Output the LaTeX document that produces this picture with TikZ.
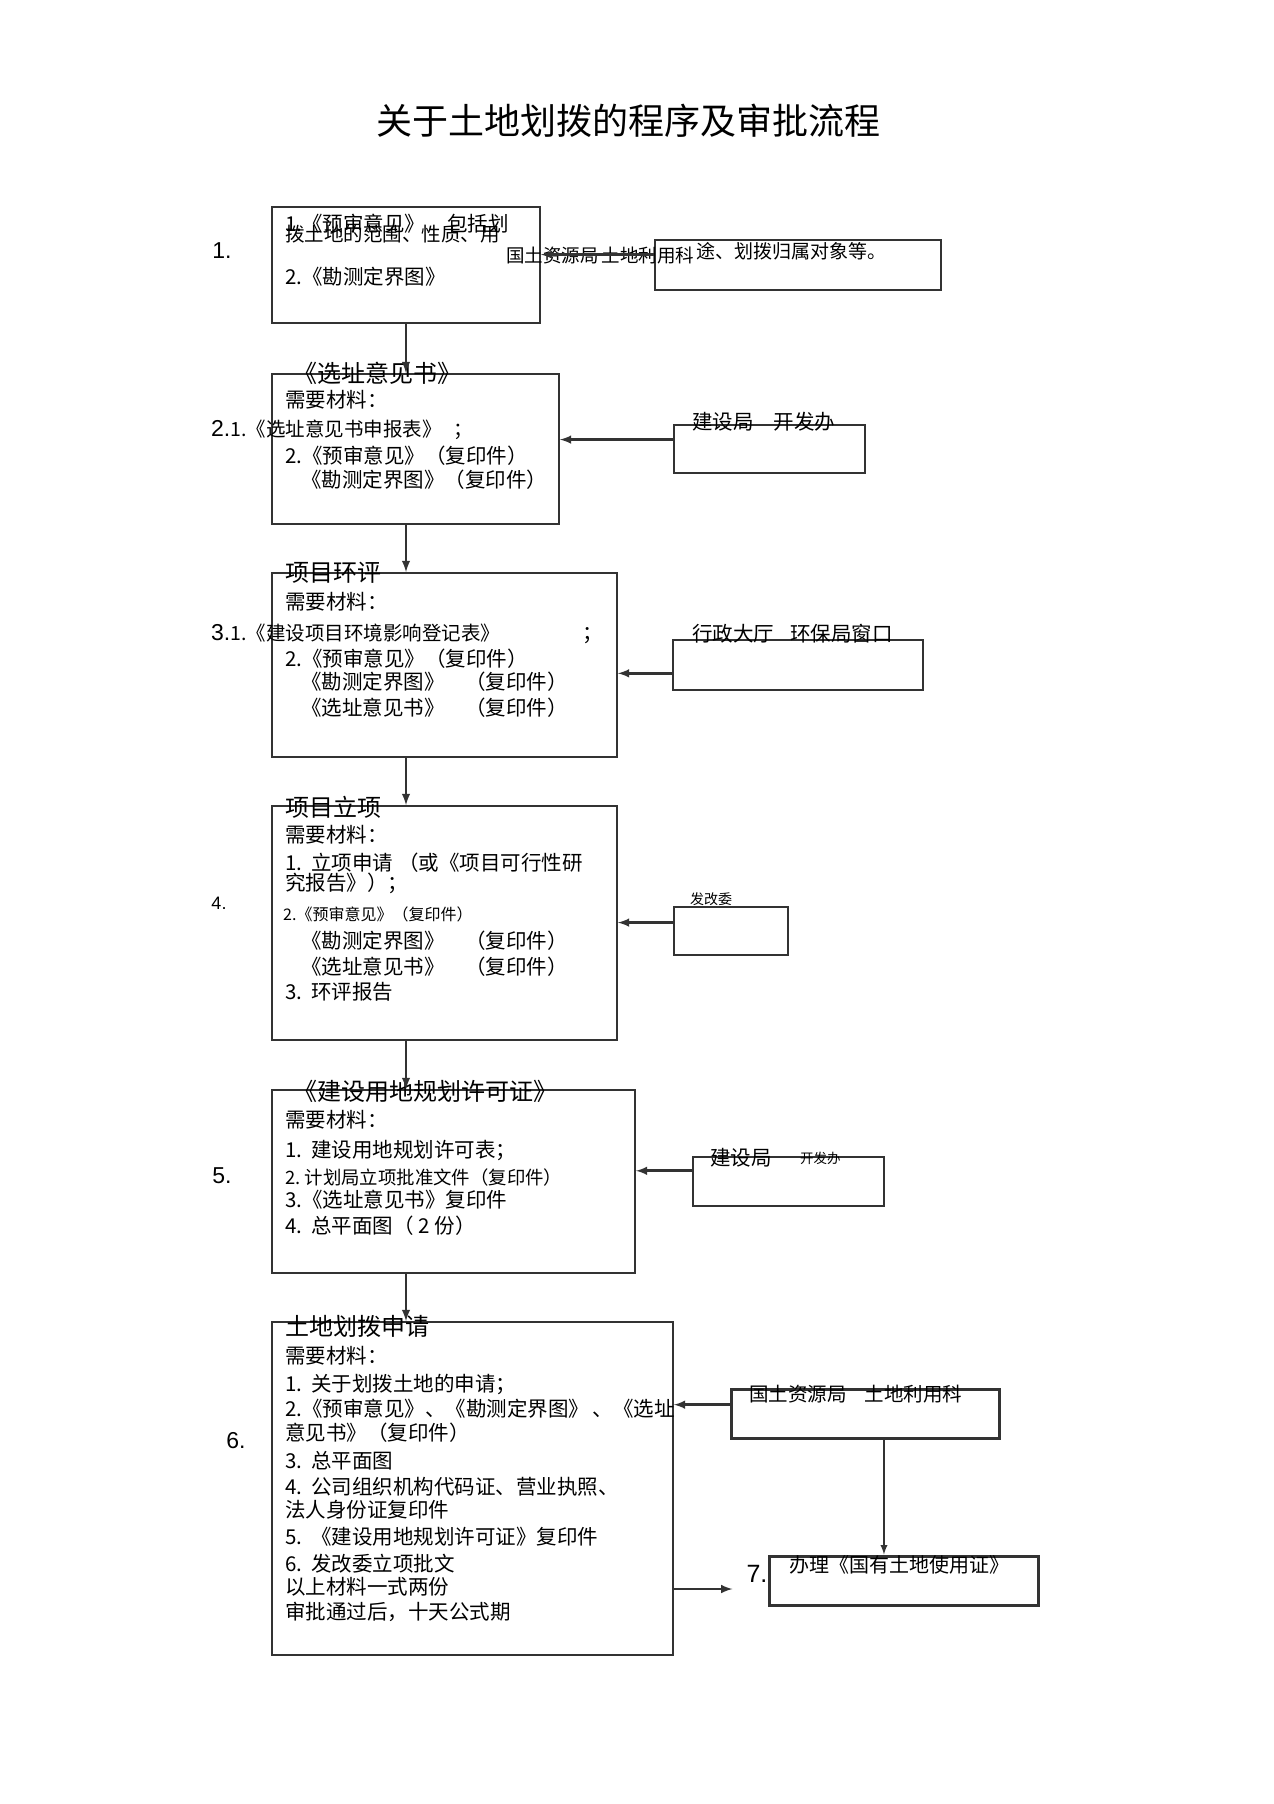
\documentclass[tikz,border=0pt]{standalone}
\usepackage{fontspec}
\setmainfont{Noto Sans CJK SC}
\newfontfamily\numfont{Liberation Sans}
\usetikzlibrary{arrows, calc}
\definecolor{rulegray}{HTML}{333333}

\begin{document}
\begin{tikzpicture}[x=1pt,y=-1pt,
    stage/.style={draw=rulegray,line width=2pt,inner sep=0},
    office/.style={draw=rulegray,line width=2pt,inner sep=0},
    entry/.style={anchor=west,inner sep=0,font=\fontsize{20.5}{20.5}\selectfont},
    small entry/.style={entry,font=\fontsize{16}{16}\selectfont},
    heading/.style={entry,font=\fontsize{24}{24}\selectfont},
    stepno/.style={inner sep=0,font=\numfont\fontsize{23}{23}\selectfont},
    flow/.style={draw=rulegray,line width=2.8pt,-latex}]

    \useasboundingbox (0,0) rectangle (1274,1804);

    \node[heading,anchor=center,font=\fontsize{36}{36}\selectfont] (title) at (628,121) {关于土地划拨的程序及审批流程};

    % 1. pre-examination
    \node[stage,minimum width=268,minimum height=116] (b1) at (406,265) {};
    \node[office,minimum width=286,minimum height=50] (r1) at (798,265) {};
    \node[stepno] (n1) at (222,251) {1.};
    \node[entry] (t11) at (285,224) {1.《预审意见》\hspace{22pt}包括划};
    \node[entry,font=\fontsize{19.5}{19.5}\selectfont] (t12) at (285,234) {拨土地的范围、性质、用};
    \node[entry] (t13) at (285,277) {2.《勘测定界图》};
    \node[entry,font=\fontsize{18.5}{18.5}\selectfont] (o1) at (506,256) {国土资源局\,土地利用科};
    \node[entry,font=\fontsize{19}{19}\selectfont] (o1b) at (696,251) {途、划拨归属对象等。};
    \draw[flow] ($(r1.north west)!.3!(r1.south west)$) coordinate (a1) -- (a1 -| b1.east);

    % 2. site selection
    \node[stage,minimum width=287,minimum height=150] (b2) at (415.5,449) {};
    \node[office,line width=1.6pt,minimum width=191,minimum height=48] (r2) at (769.5,449) {};
    \node[heading] (h2) at (293,373) {《选址意见书》};
    \node[entry] (t21) at (285,400) {需要材料：};
    \node[entry,font=\fontsize{19.5}{19.5}\selectfont] (t22) at (211,430) {{\numfont\fontsize{23}{23}\selectfont 2.}1.《选址意见书申报表》\hspace{12pt}；};
    \node[entry] (t23) at (285,456) {2.《预审意见》（复印件）};
    \node[entry] (t24) at (301,480) {《勘测定界图》（复印件）};
    \node[entry] (o2) at (692,422) {建设局\hspace{20pt}开发办};
    \draw[flow] ($(r2.north west)!.31!(r2.south west)$) coordinate (a2) -- (a2 -| b2.east);

    % 3. environmental assessment
    \node[stage,minimum width=345,minimum height=184] (b3) at (444.5,665) {};
    \node[office,minimum width=250,minimum height=50] (r3) at (798,665) {};
    \node[heading] (h3) at (285,573) {项目环评};
    \node[entry] (t31) at (285,602) {需要材料：};
    \node[entry,font=\fontsize{19.5}{19.5}\selectfont] (t32) at (211,633) {{\numfont\fontsize{23}{23}\selectfont 3.}1.《建设项目环境影响登记表》};
    \node[entry] (t32b) at (582,636) {；};
    \node[entry] (t33) at (285,659) {2.《预审意见》（复印件）};
    \node[entry] (t34) at (301,682) {《勘测定界图》\quad（复印件）};
    \node[entry] (t35) at (301,708) {《选址意见书》\quad（复印件）};
    \node[entry] (o3) at (692,634) {行政大厅\hspace{16pt}环保局窗口};
    \draw[flow] ($(r3.north west)!.66!(r3.south west)$) coordinate (a3) -- (a3 -| b3.east);

    % 4. project approval
    \node[stage,minimum width=345,minimum height=234] (b4) at (444.5,923) {};
    \node[office,line width=1.6pt,minimum width=114,minimum height=48] (r4) at (731,931) {};
    \node[stepno,font=\numfont\fontsize{18}{18}\selectfont] (n4) at (219,903) {4.};
    \node[heading] (h4) at (285,807) {项目立项};
    \node[entry] (t41) at (285,835) {需要材料：};
    \node[entry] (t42) at (285,863) {1.\ \ 立项申请\ （或《项目可行性研};
    \node[entry] (t43) at (285,883) {究报告》）；};
    \node[small entry] (t44) at (283,914) {2.《预审意见》（复印件）};
    \node[entry] (t45) at (301,941) {《勘测定界图》\quad（复印件）};
    \node[entry] (t46) at (301,967) {《选址意见书》\quad（复印件）};
    \node[entry] (t47) at (285,992) {3.\ \ 环评报告};
    \node[small entry,font=\fontsize{14}{14}\selectfont] (o4) at (690,899) {发改委};
    \draw[flow] ($(r4.north west)!.33!(r4.south west)$) coordinate (a4) -- (a4 -| b4.east);

    % 5. planning permit
    \node[stage,minimum width=363,minimum height=183] (b5) at (453.5,1181.5) {};
    \node[office,minimum width=191,minimum height=49] (r5) at (788.5,1181.5) {};
    \node[stepno] (n5) at (222,1176) {5.};
    \node[heading] (h5) at (293,1091) {《建设用地规划许可证》};
    \node[entry] (t51) at (285,1120) {需要材料：};
    \node[entry] (t52) at (285,1151) {1.\ \ 建设用地规划许可表；};
    \node[entry,font=\fontsize{18.4}{18.4}\selectfont] (t53) at (285,1177) {2.\ 计划局立项批准文件（复印件）};
    \node[entry] (t54) at (285,1200) {3.《选址意见书》复印件};
    \node[entry] (t55) at (285,1226) {4.\ \ 总平面图（ 2 份）};
    \node[entry] (o5) at (710,1158) {建设局};
    \node[small entry,font=\fontsize{13.5}{13.5}\selectfont] (o5b) at (800,1158) {开发办};
    \draw[flow] ($(r5.north west)!.29!(r5.south west)$) coordinate (a5) -- (a5 -| b5.east);

    % 6. allocation application
    \node[stage,minimum width=401,minimum height=333] (b6) at (472.5,1488.5) {};
    \node[office,line width=3pt,minimum width=268,minimum height=49] (r6) at (865,1413.5) {};
    \node[stepno] (n6) at (236,1441) {6.};
    \node[heading] (h6) at (285,1326) {土地划拨申请};
    \node[entry] (t61) at (285,1356) {需要材料：};
    \node[entry] (t62) at (285,1384) {1.\ \ 关于划拨土地的申请；};
    \node[entry] (t63) at (285,1409) {2.《预审意见》、《勘测定界图》\,、《选址};
    \node[entry] (t64) at (285,1433) {意见书》（复印件）};
    \node[entry] (t65) at (285,1461) {3.\ \ 总平面图};
    \node[entry] (t66) at (285,1487) {4.\ \ 公司组织机构代码证、营业执照、};
    \node[entry] (t67) at (285,1510) {法人身份证复印件};
    \node[entry] (t68) at (285,1537) {5.\ \ 《建设用地规划许可证》复印件};
    \node[entry] (t69) at (285,1564) {6.\ \ 发改委立项批文};
    \node[entry] (t6a) at (285,1587) {以上材料一式两份};
    \node[entry] (t6b) at (285,1612) {审批通过后，十天公式期};
    \node[entry,font=\fontsize{19.5}{19.5}\selectfont] (o6) at (749,1394) {国土资源局\hspace{18pt}土地利用科};
    \draw[flow] ($(r6.north west)!.33!(r6.south west)$) coordinate (a6) -- (a6 -| b6.east);

    % 7. land use certificate
    \node[office,line width=3pt,minimum width=269,minimum height=49] (b7) at (903.5,1580.5) {};
    \node[stepno,font=\numfont\fontsize{25}{25}\selectfont] (n7) at (757,1574) {7.};
    \node[entry,font=\fontsize{20}{20}\selectfont] (t71) at (789,1565) {办理《国有土地使用证》};
    \draw[flow,line width=2.2pt] ($(r6.south west)!.57!(r6.south east)$) coordinate (a8) -- (a8 |- b7.north);
    \draw[flow] ($(b6.north east)!.8!(b6.south east)$) coordinate (a9) -- (a9 -| n7.west) [shorten >=14pt];

    % main line
    \draw[flow] (b1.south) -- (b1.south |- b2.north);
    \draw[flow] (b1.south |- b2.south) -- (b1.south |- b3.north);
    \draw[flow] (b1.south |- b3.south) -- (b1.south |- b4.north);
    \draw[flow] (b1.south |- b4.south) -- (b1.south |- b5.north);
    \draw[flow] (b1.south |- b5.south) -- (b1.south |- b6.north);
\end{tikzpicture}
\end{document}
